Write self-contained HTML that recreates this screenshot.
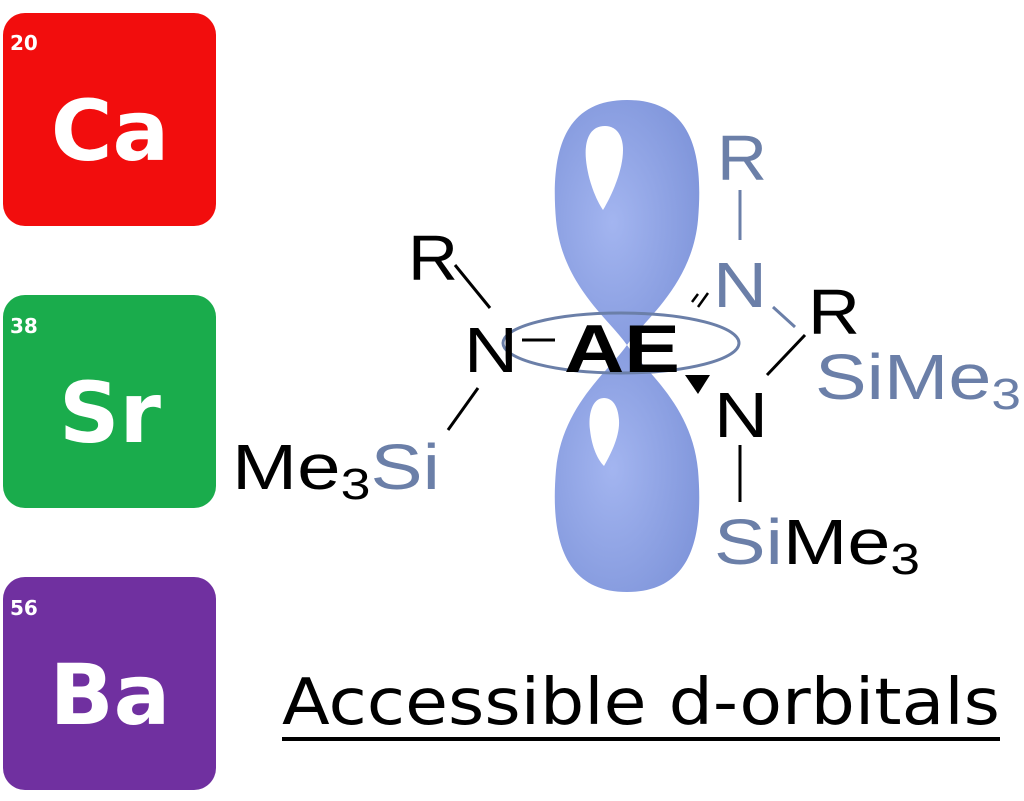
<!DOCTYPE html>
<html><head><meta charset="utf-8"><style>
html,body{margin:0;padding:0;background:#fff;width:1024px;height:801px;overflow:hidden}
</style></head><body>
<svg width="1024" height="801" viewBox="0 0 1024 801" xmlns="http://www.w3.org/2000/svg">
<defs>
<radialGradient id="lob" cx="0.4" cy="0.5" r="0.7">
<stop offset="0" stop-color="#a3b5f0"/><stop offset="1" stop-color="#7d93d9"/>
</radialGradient>
</defs>
<rect x="3" y="13" width="213" height="213" rx="22" fill="#f20d0d"/>
<rect x="3" y="295" width="213" height="213" rx="22" fill="#1aac4c"/>
<rect x="3" y="577" width="213" height="213" rx="22" fill="#7030a0"/>
<g font-family="'DejaVu Sans','Liberation Sans',sans-serif" font-weight="bold" fill="#fff">
<text x="10" y="50" font-size="20">20</text>
<text x="110" y="160" font-size="84" text-anchor="middle">Ca</text>
<text x="10" y="333" font-size="20">38</text>
<text x="110" y="442" font-size="84" text-anchor="middle">Sr</text>
<text x="10" y="615" font-size="20">56</text>
<text x="110" y="724" font-size="84" text-anchor="middle">Ba</text>
</g>
<!-- orbital -->
<path d="M627,345 C610,320 562,285 556,220 C550,150 565,100 627,100 C690,100 704,150 698,220 C692,285 644,320 627,345 Z" fill="url(#lob)"/>
<path d="M627,345 C610,370 562,405 556,470 C550,540 565,592 627,592 C690,592 704,540 698,470 C692,405 644,370 627,345 Z" fill="url(#lob)"/>
<path d="M605,126 C590,126 584,140 586,160 C588,180 596,200 603,210 C612,195 623,170 623,150 C623,135 616,126 605,126 Z" fill="#fff"/>
<path d="M604,398 C592,398 588,415 590,430 C592,448 598,460 604,466 C612,452 620,435 619,420 C618,405 612,398 604,398 Z" fill="#fff"/>
<ellipse cx="621" cy="343" rx="118" ry="30" fill="none" stroke="#6b7fa8" stroke-width="3"/>
<!-- bonds -->
<g stroke="#000" stroke-width="3">
<line x1="455" y1="265" x2="490" y2="308"/>
<line x1="478" y1="388" x2="448" y2="430"/>
<line x1="522" y1="340" x2="555" y2="340"/>
<line x1="805" y1="335" x2="767" y2="375"/>
<line x1="740" y1="445" x2="740" y2="502"/>
<line x1="692" y1="302" x2="698" y2="294" stroke-width="2.5"/>
<line x1="698" y1="307" x2="708" y2="293" stroke-width="2.5"/>
</g>
<g stroke="#6b7fa8" stroke-width="3">
<line x1="740" y1="190" x2="740" y2="240"/>
<line x1="773" y1="307" x2="795" y2="327"/>
</g>
<polygon points="685,375 710,375 698,394" fill="#000"/>
<g font-family="'Liberation Sans',sans-serif" font-size="64" lengthAdjust="spacingAndGlyphs">
<text x="408" y="280" fill="#000" textLength="50" lengthAdjust="spacingAndGlyphs">R</text>
<text x="464" y="372" fill="#000" textLength="54" lengthAdjust="spacingAndGlyphs">N</text>
<text x="564" y="372" fill="#000" font-weight="bold" font-size="68" textLength="116" lengthAdjust="spacingAndGlyphs">AE</text>
<text x="232" y="489" fill="#000" textLength="208" lengthAdjust="spacingAndGlyphs">Me<tspan font-size="44" dy="10">3</tspan><tspan fill="#6b7fa8" dy="-10">Si</tspan></text>
<text x="717" y="180" fill="#6b7fa8" textLength="50" lengthAdjust="spacingAndGlyphs">R</text>
<text x="713" y="307" fill="#6b7fa8" textLength="54" lengthAdjust="spacingAndGlyphs">N</text>
<text x="808" y="334" fill="#000" textLength="52" lengthAdjust="spacingAndGlyphs">R</text>
<text x="815" y="399" fill="#6b7fa8" textLength="206" lengthAdjust="spacingAndGlyphs">SiMe<tspan font-size="44" dy="10">3</tspan></text>
<text x="714" y="437" fill="#000" textLength="54" lengthAdjust="spacingAndGlyphs">N</text>
<text x="714" y="564" fill="#6b7fa8" textLength="206" lengthAdjust="spacingAndGlyphs">Si<tspan fill="#000">Me</tspan><tspan fill="#000" font-size="44" dy="10">3</tspan></text>
</g>
<text x="282" y="724" font-family="'DejaVu Sans','Liberation Sans',sans-serif" font-size="64" fill="#000" textLength="718" lengthAdjust="spacingAndGlyphs">Accessible d-orbitals</text>
<rect x="282" y="737" width="718" height="4" fill="#000"/>
</svg>
</body></html>
